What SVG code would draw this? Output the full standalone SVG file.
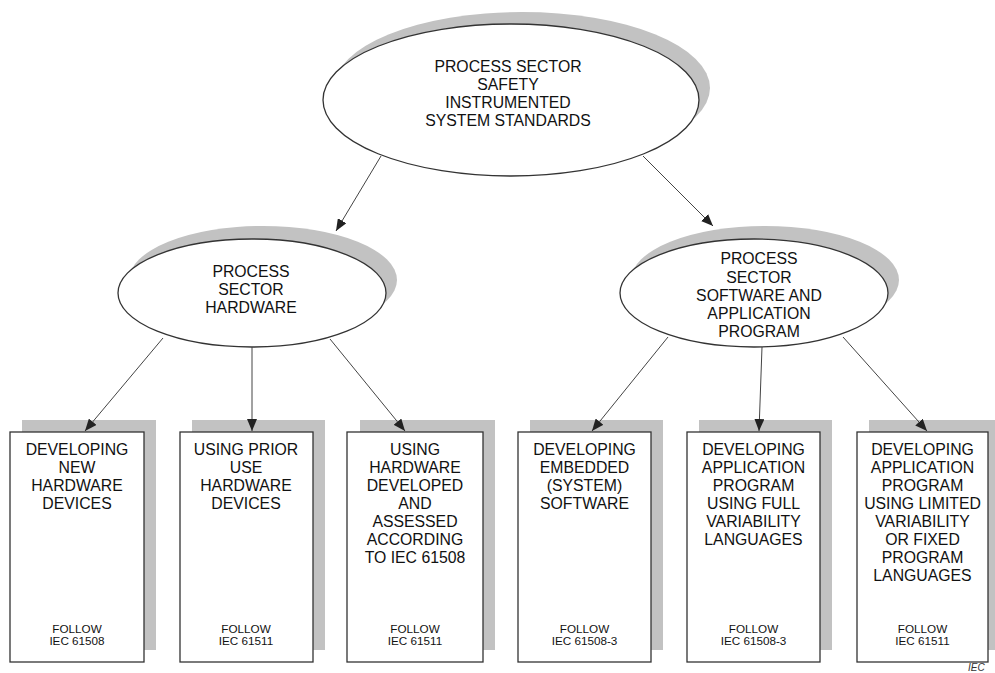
<svg xmlns="http://www.w3.org/2000/svg" width="995" height="673" viewBox="0 0 995 673">
  <style>
    .bg { fill: #ffffff; }
    .shadow { fill: #c2c2c2; stroke: none; }
    .shape { fill: #ffffff; stroke: #333333; stroke-width: 1.3; }
    .big { font-family: "Liberation Sans", Arial, sans-serif; font-size: 15.8px; fill: #111111; text-anchor: middle; }
    .small { font-family: "Liberation Sans", Arial, sans-serif; font-size: 11.7px; fill: #111111; text-anchor: middle; }
    .conn { stroke: #444444; stroke-width: 1; fill: none; marker-end: url(#arrow); }
    .tag { font-family: "Liberation Sans", Arial, sans-serif; font-size: 10px; font-style: italic; fill: #333333; }
  </style>
  <defs>
    <marker id="arrow" markerUnits="userSpaceOnUse" markerWidth="12" markerHeight="10" viewBox="0 0 12 10" refX="12" refY="5" orient="auto">
      <path d="M0,0 L12,5 L0,10 Z" fill="#222222"/>
    </marker>
  </defs>
  <rect class="bg" x="0" y="0" width="995" height="673"/>

  <!-- root ellipse -->
  <g id="root">
    <ellipse class="shadow" cx="522" cy="88" rx="188" ry="76"/>
    <ellipse class="shape" cx="511" cy="100" rx="188" ry="76"/>
    <text class="big" x="508" y="72">PROCESS SECTOR</text>
    <text class="big" x="508" y="90">SAFETY</text>
    <text class="big" x="508" y="108">INSTRUMENTED</text>
    <text class="big" x="508" y="126">SYSTEM STANDARDS</text>
  </g>

  <!-- hardware branch -->
  <g id="hardware">
    <ellipse class="shadow" cx="263" cy="280" rx="134" ry="54"/>
    <ellipse class="shape" cx="252" cy="293" rx="134" ry="54"/>
    <text class="big" x="251" y="277">PROCESS</text>
    <text class="big" x="251" y="295">SECTOR</text>
    <text class="big" x="251" y="313">HARDWARE</text>
  </g>

  <!-- software branch -->
  <g id="software">
    <ellipse class="shadow" cx="765" cy="280" rx="134" ry="54"/>
    <ellipse class="shape" cx="754" cy="293" rx="134" ry="54"/>
    <text class="big" x="759" y="264">PROCESS</text>
    <text class="big" x="759" y="282.5">SECTOR</text>
    <text class="big" x="759" y="301">SOFTWARE AND</text>
    <text class="big" x="759" y="319">APPLICATION</text>
    <text class="big" x="759" y="337">PROGRAM</text>
  </g>

  <!-- leaf boxes -->
  <g id="box-new-hw">
    <rect class="shadow" x="22" y="420" width="134" height="230"/>
    <rect class="shape" x="10" y="432" width="134" height="230"/>
    <text class="big" x="77" y="455">DEVELOPING</text>
    <text class="big" x="77" y="473">NEW</text>
    <text class="big" x="77" y="491">HARDWARE</text>
    <text class="big" x="77" y="509">DEVICES</text>
    <text class="small" x="77" y="633">FOLLOW</text>
    <text class="small" x="77" y="645">IEC 61508</text>
  </g>

  <g id="box-prior-use">
    <rect class="shadow" x="192" y="420" width="133" height="230"/>
    <rect class="shape" x="180" y="432" width="133" height="230"/>
    <text class="big" x="246" y="455">USING PRIOR</text>
    <text class="big" x="246" y="473">USE</text>
    <text class="big" x="246" y="491">HARDWARE</text>
    <text class="big" x="246" y="509">DEVICES</text>
    <text class="small" x="246" y="633">FOLLOW</text>
    <text class="small" x="246" y="645">IEC 61511</text>
  </g>

  <g id="box-assessed-hw">
    <rect class="shadow" x="360" y="420" width="135" height="230"/>
    <rect class="shape" x="347" y="432" width="136" height="230"/>
    <text class="big" x="415" y="455">USING</text>
    <text class="big" x="415" y="473">HARDWARE</text>
    <text class="big" x="415" y="491">DEVELOPED</text>
    <text class="big" x="415" y="509">AND</text>
    <text class="big" x="415" y="527">ASSESSED</text>
    <text class="big" x="415" y="545">ACCORDING</text>
    <text class="big" x="415" y="563">TO IEC 61508</text>
    <text class="small" x="415" y="633">FOLLOW</text>
    <text class="small" x="415" y="645">IEC 61511</text>
  </g>

  <g id="box-embedded-sw">
    <rect class="shadow" x="530" y="420" width="133" height="230"/>
    <rect class="shape" x="518" y="432" width="133" height="230"/>
    <text class="big" x="584.5" y="455">DEVELOPING</text>
    <text class="big" x="584.5" y="473">EMBEDDED</text>
    <text class="big" x="584.5" y="491">(SYSTEM)</text>
    <text class="big" x="584.5" y="509">SOFTWARE</text>
    <text class="small" x="584.5" y="633">FOLLOW</text>
    <text class="small" x="584.5" y="645">IEC 61508-3</text>
  </g>

  <g id="box-full-variability">
    <rect class="shadow" x="699" y="420" width="133" height="230"/>
    <rect class="shape" x="687" y="432" width="133" height="230"/>
    <text class="big" x="753.5" y="455">DEVELOPING</text>
    <text class="big" x="753.5" y="473">APPLICATION</text>
    <text class="big" x="753.5" y="491">PROGRAM</text>
    <text class="big" x="753.5" y="509">USING FULL</text>
    <text class="big" x="753.5" y="527">VARIABILITY</text>
    <text class="big" x="753.5" y="545">LANGUAGES</text>
    <text class="small" x="753.5" y="633">FOLLOW</text>
    <text class="small" x="753.5" y="645">IEC 61508-3</text>
  </g>

  <g id="box-limited-variability">
    <rect class="shadow" x="869" y="420" width="131" height="230"/>
    <rect class="shape" x="857" y="432" width="131" height="230"/>
    <text class="big" x="922.5" y="455">DEVELOPING</text>
    <text class="big" x="922.5" y="473">APPLICATION</text>
    <text class="big" x="922.5" y="491">PROGRAM</text>
    <text class="big" x="922.5" y="509">USING LIMITED</text>
    <text class="big" x="922.5" y="527">VARIABILITY</text>
    <text class="big" x="922.5" y="545">OR FIXED</text>
    <text class="big" x="922.5" y="563">PROGRAM</text>
    <text class="big" x="922.5" y="581">LANGUAGES</text>
    <text class="small" x="922.5" y="633">FOLLOW</text>
    <text class="small" x="922.5" y="645">IEC 61511</text>
  </g>

  <!-- connectors -->
  <g id="connectors">
    <line class="conn" x1="381" y1="156" x2="336" y2="231"/>
    <line class="conn" x1="643" y1="156" x2="713" y2="226"/>
    <line class="conn" x1="163" y1="338" x2="85" y2="431"/>
    <line class="conn" x1="252" y1="347" x2="252" y2="431"/>
    <line class="conn" x1="330" y1="339" x2="405" y2="431"/>
    <line class="conn" x1="668" y1="337" x2="592" y2="431"/>
    <line class="conn" x1="762" y1="347" x2="759" y2="431"/>
    <line class="conn" x1="843" y1="337" x2="927" y2="431"/>
  </g>

  <text class="tag" x="968" y="671">IEC</text>
</svg>
